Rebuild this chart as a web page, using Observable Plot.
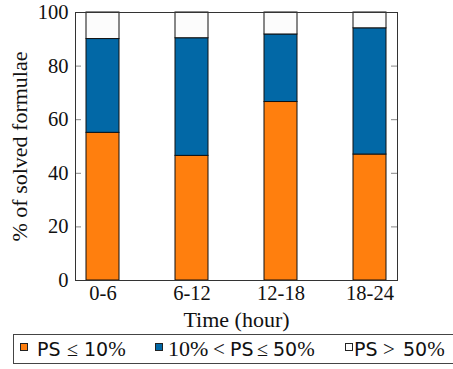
<!DOCTYPE html>
<html><head><meta charset="utf-8">
<script src="https://cdn.jsdelivr.net/npm/d3@7"></script>
<script src="https://cdn.jsdelivr.net/npm/@observablehq/plot@0.6"></script>
<style>
body{margin:0;background:#fff;width:453px;height:369px;overflow:hidden}
svg{display:block}
</style></head><body><div id="chart"></div><div id="legend"></div>
<script>
const periods = ["0-6", "6-12", "12-18", "18-24"];
const psLow = [55.1, 46.5, 66.6, 47.0];
const psMid = [35.0, 43.9, 25.2, 47.1];
const psHigh = [9.9, 9.6, 8.2, 5.9];
const seriesNames = ["PS ≤ 10%", "10% <PS ≤ 50%", "PS > 50%"];
const seriesColors = ["#ff7f0e", "#0268a6", "#fcfcfc"];
const yTicks = [0, 20, 40, 60, 80, 100];
const xTitle = "Time (hour)";
const yTitle = "% of solved formulae";

const seriesValues = [psLow, psMid, psHigh];
const data = [];
seriesNames.forEach((s, i) => periods.forEach((p, j) => data.push({period: p, series: s, value: seriesValues[i][j]})));

const serif = "'Liberation Serif', serif";
const chart = Plot.plot({
  width: 453, height: 334,
  marginLeft: 75, marginRight: 56, marginTop: 12, marginBottom: 54,
  style: {fontFamily: serif, fontSize: "20.5px", color: "#111", background: "#fff"},
  x: {domain: periods, paddingInner: 0.63, paddingOuter: 0.123},
  y: {domain: [0, 100]},
  color: {domain: seriesNames, range: seriesColors},
  marks: [
    Plot.tickY(yTicks, {y: d => d, insetRight: 316, stroke: "#888"}),
    Plot.tickY(yTicks, {y: d => d, insetLeft: 316, stroke: "#888"}),
    Plot.barY(data, Plot.stackY({x: "period", y: "value", fill: "series", stroke: "#111", strokeWidth: 1, order: seriesNames})),
    Plot.axisY({ticks: yTicks, tickSize: 0, tickPadding: 7, label: null}),
    Plot.axisX({tickSize: 0, tickPadding: 5, label: null}),
    Plot.text([yTitle], {text: d => d, frameAnchor: "left", dx: -64, rotate: -90, textAnchor: "middle", lineAnchor: "top", fontSize: 22, fill: "#111"}),
    Plot.text([xTitle], {text: d => d, frameAnchor: "bottom", dy: 39.7, textAnchor: "middle", lineAnchor: "middle", fontSize: 22, fill: "#111"}),
    Plot.frame({stroke: "#333"})
  ]
});
document.getElementById("chart").appendChild(chart);

// legend below the chart
const leg = d3.select("#legend").append("svg").attr("width", 453).attr("height", 35);
leg.append("rect").attr("x", 13.5).attr("y", 0.5).attr("width", 470).attr("height", 29)
  .attr("fill", "#fff").attr("stroke", "#444").attr("stroke-width", 1);
const swatchX = [20, 155, 345];
seriesColors.forEach((c, i) => {
  leg.append("rect").attr("x", swatchX[i] + 0.5).attr("y", 9.5).attr("width", 7).attr("height", 7)
    .attr("fill", c).attr("stroke", "#222").attr("stroke-width", 1);
});
const sans = "'DejaVu Sans', sans-serif";
// [x, text, font, size]
const chunks = [
  [[37, "PS", sans, 19], [67, "≤", serif, 20], [84, "10", sans, 19], [null, "%", serif, 21]],
  [[168, "10%", serif, 22], [213, "<", serif, 21], [230, "PS", sans, 19], [257, "≤", serif, 20], [273, "50", sans, 19], [null, "%", serif, 21]],
  [[354, "PS", sans, 19], [383, ">", serif, 21], [403, "50", sans, 19], [null, "%", serif, 21]]
];
chunks.forEach((item, i) => {
  let t = null;
  item.forEach(([x, s, f, fs]) => {
    if (x !== null) t = leg.append("text").attr("x", x).attr("y", 22).attr("fill", "#111");
    t.append("tspan").attr("font-family", f).attr("font-size", fs).text(s);
  });
});
</script></body></html>
